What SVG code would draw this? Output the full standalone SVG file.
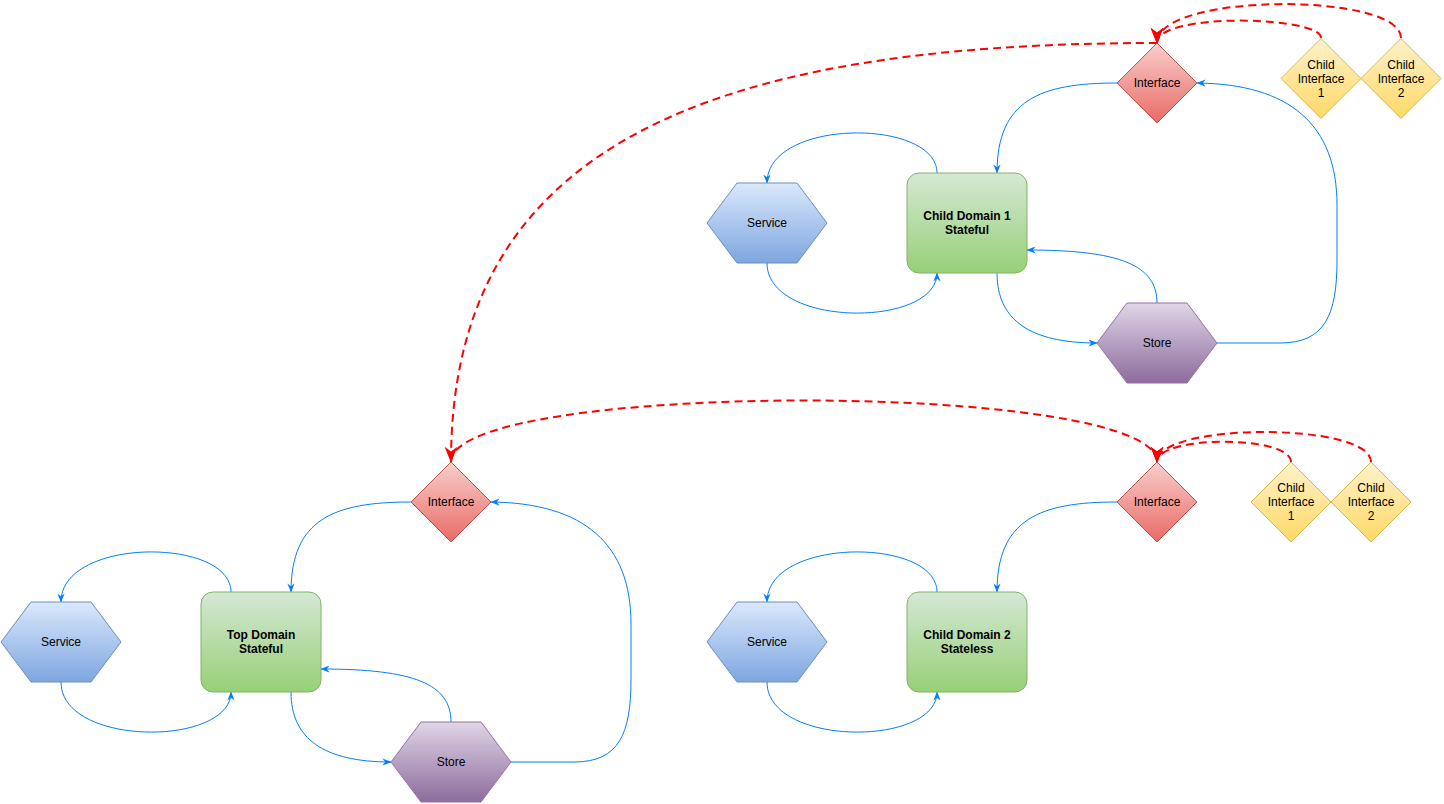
<svg xmlns="http://www.w3.org/2000/svg" width="1444" height="804" viewBox="0 0 1444 804">
<defs>
<linearGradient id="gRed" x1="0" y1="0" x2="0" y2="1"><stop offset="0" stop-color="#F8CECC"/><stop offset="1" stop-color="#EA6B66"/></linearGradient>
<linearGradient id="gYel" x1="0" y1="0" x2="0" y2="1"><stop offset="0" stop-color="#FFF2CC"/><stop offset="1" stop-color="#FFD966"/></linearGradient>
<linearGradient id="gBlue" x1="0" y1="0" x2="0" y2="1"><stop offset="0" stop-color="#DAE8FC"/><stop offset="1" stop-color="#7EA6E0"/></linearGradient>
<linearGradient id="gGreen" x1="0" y1="0" x2="0" y2="1"><stop offset="0" stop-color="#D5E8D4"/><stop offset="1" stop-color="#97D077"/></linearGradient>
<linearGradient id="gPurple" x1="0" y1="0" x2="0" y2="1"><stop offset="0" stop-color="#E1D5E7"/><stop offset="1" stop-color="#8C6C9C"/></linearGradient>
<marker id="aBlue" viewBox="0 0 10 10" refX="9.5" refY="5" markerWidth="9" markerHeight="9" markerUnits="userSpaceOnUse" orient="auto"><path d="M0,1 L10,5 L0,9 L3,5 Z" fill="#007FFF"/></marker>
<marker id="aRed" viewBox="0 0 10 10" refX="9.5" refY="5" markerWidth="16" markerHeight="16" markerUnits="userSpaceOnUse" orient="auto"><path d="M0,1 L10,5 L0,9 L3,5 Z" fill="#FF0000"/></marker>
<style>
.t{font-family:"Liberation Sans",Arial,sans-serif;font-size:12px;fill:#000;text-anchor:middle}
.b{font-weight:bold}
.iface{fill:url(#gRed);stroke:#B85450;stroke-width:1}
.child{fill:url(#gYel);stroke:#D6B656;stroke-width:1}
.svc{fill:url(#gBlue);stroke:#6C8EBF;stroke-width:1}
.dom{fill:url(#gGreen);stroke:#82B366;stroke-width:1}
.store{fill:url(#gPurple);stroke:#9673A6;stroke-width:1}
.blue{fill:none;stroke:#007FFF;stroke-width:1;marker-end:url(#aBlue)}
.red{fill:none;stroke:#FF0000;stroke-width:2;stroke-dasharray:8 5}
.redA{marker-end:url(#aRed)}
</style>
</defs>
<rect width="1444" height="804" fill="#FFFFFF"/>

<g id="connectors">
<!-- top-right cluster -->
<path class="blue" d="M1117 83 C1040 83 997 100 997 173"/>
<path class="blue" d="M937 173 C937 118 767 118 767 183"/>
<path class="blue" d="M767 263 C767 328 937 328 937 273"/>
<path class="blue" d="M997 273 C997 320 1030 343 1097 343"/>
<path class="blue" d="M1157 303 C1157 265 1120 250 1027 250"/>
<path class="blue" d="M1217 343 L1280 343 C1325 343 1337 315 1337 260 L1337 205 C1337 125 1290 84 1197 83"/>
<!-- bottom-left cluster -->
<path class="blue" d="M411 502 C334 502 291 519 291 592"/>
<path class="blue" d="M231 592 C231 537 61 537 61 602"/>
<path class="blue" d="M61 682 C61 747 231 747 231 692"/>
<path class="blue" d="M291 692 C291 739 324 762 391 762"/>
<path class="blue" d="M451 722 C451 684 414 669 321 669"/>
<path class="blue" d="M511 762 L574 762 C619 762 631 734 631 679 L631 624 C631 544 584 503 491 502"/>
<!-- bottom-right cluster -->
<path class="blue" d="M1117 502 C1040 502 997 519 997 592"/>
<path class="blue" d="M937 592 C937 537 767 537 767 602"/>
<path class="blue" d="M767 682 C767 747 937 747 937 692"/>
<!-- red dashed -->
<path class="red redA" d="M1321 38 C1321 16 1157 12 1157 43"/>
<path class="red redA" d="M1401 38 C1401 -8 1157 -8 1157 43"/>
<path class="red redA" d="M1157 43 C700 43 451 150 451 462"/>
<path class="red redA" d="M451 462 C451 380 1157 380 1157 462"/>
<path class="red redA" d="M1291 462 C1291 435 1157 435 1157 462"/>
<path class="red redA" d="M1371 462 C1371 422 1157 422 1157 462"/>
</g>

<!-- top-right cluster nodes -->
<g id="interface-child1" transform="translate(1157,83)">
<polygon class="iface" points="0,-40 40,0 0,40 -40,0"/>
<text class="t" y="4">Interface</text>
</g>
<g id="child-interface-1a" transform="translate(1321,78.5)">
<polygon class="child" points="0,-40 40,0 0,40 -40,0"/>
<text class="t" y="-10">Child</text>
<text class="t" y="4">Interface</text>
<text class="t" y="18">1</text>
</g>
<g id="child-interface-2a" transform="translate(1401,78.5)">
<polygon class="child" points="0,-40 40,0 0,40 -40,0"/>
<text class="t" y="-10">Child</text>
<text class="t" y="4">Interface</text>
<text class="t" y="18">2</text>
</g>
<g id="child-domain-1" transform="translate(967,223)">
<rect class="dom" x="-60" y="-50" width="120" height="100" rx="12"/>
<text class="t b" y="-3">Child Domain 1</text>
<text class="t b" y="11">Stateful</text>
</g>
<g id="service-child1" transform="translate(767,223)">
<polygon class="svc" points="-60,0 -30,-40 30,-40 60,0 30,40 -30,40"/>
<text class="t" y="4">Service</text>
</g>
<g id="store-child1" transform="translate(1157,343)">
<polygon class="store" points="-60,0 -30,-40 30,-40 60,0 30,40 -30,40"/>
<text class="t" y="4">Store</text>
</g>

<!-- bottom-left cluster nodes -->
<g id="interface-top" transform="translate(451,502)">
<polygon class="iface" points="0,-40 40,0 0,40 -40,0"/>
<text class="t" y="4">Interface</text>
</g>
<g id="top-domain" transform="translate(261,642)">
<rect class="dom" x="-60" y="-50" width="120" height="100" rx="12"/>
<text class="t b" y="-3">Top Domain</text>
<text class="t b" y="11">Stateful</text>
</g>
<g id="service-top" transform="translate(61,642)">
<polygon class="svc" points="-60,0 -30,-40 30,-40 60,0 30,40 -30,40"/>
<text class="t" y="4">Service</text>
</g>
<g id="store-top" transform="translate(451,762)">
<polygon class="store" points="-60,0 -30,-40 30,-40 60,0 30,40 -30,40"/>
<text class="t" y="4">Store</text>
</g>

<!-- bottom-right cluster nodes -->
<g id="interface-child2" transform="translate(1157,502)">
<polygon class="iface" points="0,-40 40,0 0,40 -40,0"/>
<text class="t" y="4">Interface</text>
</g>
<g id="child-interface-1b" transform="translate(1291,502)">
<polygon class="child" points="0,-40 40,0 0,40 -40,0"/>
<text class="t" y="-10">Child</text>
<text class="t" y="4">Interface</text>
<text class="t" y="18">1</text>
</g>
<g id="child-interface-2b" transform="translate(1371,502)">
<polygon class="child" points="0,-40 40,0 0,40 -40,0"/>
<text class="t" y="-10">Child</text>
<text class="t" y="4">Interface</text>
<text class="t" y="18">2</text>
</g>
<g id="child-domain-2" transform="translate(967,642)">
<rect class="dom" x="-60" y="-50" width="120" height="100" rx="12"/>
<text class="t b" y="-3">Child Domain 2</text>
<text class="t b" y="11">Stateless</text>
</g>
<g id="service-child2" transform="translate(767,642)">
<polygon class="svc" points="-60,0 -30,-40 30,-40 60,0 30,40 -30,40"/>
<text class="t" y="4">Service</text>
</g>
</svg>
